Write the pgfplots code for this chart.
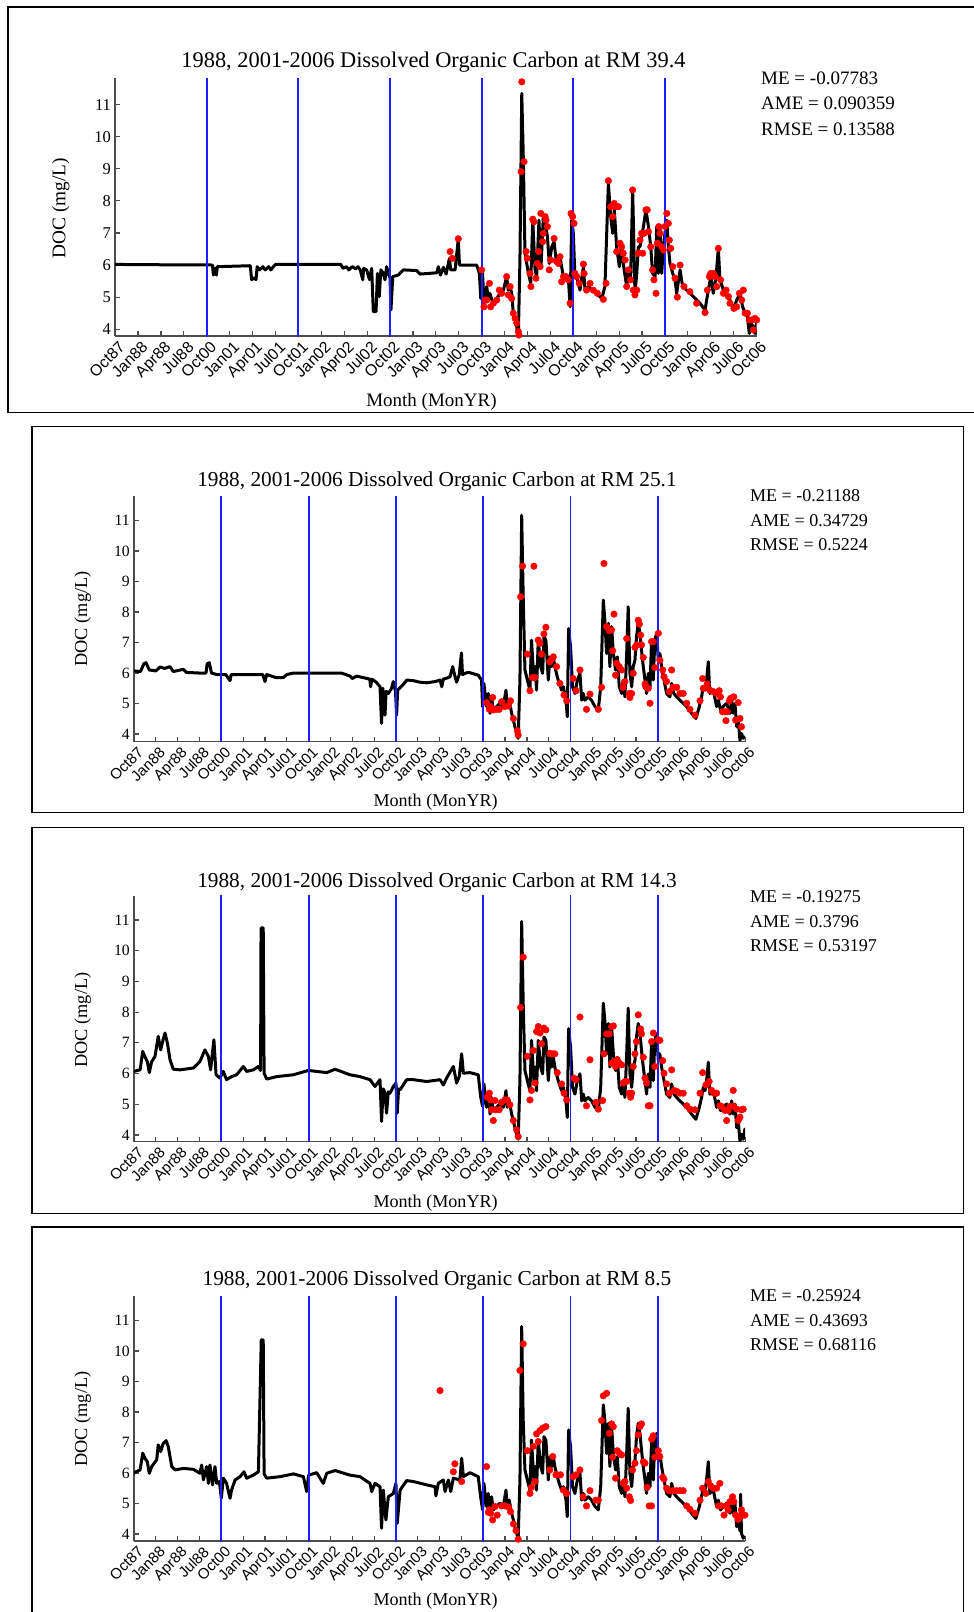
\documentclass[border=0pt]{standalone}
\usepackage{fontspec}
\setmainfont{Liberation Serif}
\newfontfamily\arialf{Liberation Sans}
\usepackage{pgfplots}
\usepackage{pgfplotstable}
\pgfplotsset{compat=1.18}
\definecolor{mblue}{RGB}{30,30,255}
\definecolor{mred}{RGB}{255,0,0}

% ---------------- Panel 1 (RM 39.4) ----------------
\pgfplotstableread{
x y
0 6.02
2 6.01
4.0 6.01
4.25 6.0
4.29 5.69
4.35 5.9
4.42 5.69
4.46 5.95
5.9 5.98
5.96 5.54
6.05 5.6
6.15 5.55
6.2 5.95
6.3 5.85
6.45 5.95
6.55 5.85
6.7 5.95
6.8 5.85
6.91 5.95
7.0 6.02
9.85 6.02
9.95 5.9
10.1 5.95
10.2 5.85
10.35 5.95
10.5 5.88
10.6 5.95
10.7 5.85
10.81 5.54
10.85 5.9
10.98 5.85
11.1 5.55
11.2 5.9
11.27 4.55
11.39 4.55
11.45 5.74
11.53 5.02
11.6 5.85
11.7 5.75
11.78 5.54
11.85 5.95
11.93 5.74
12.0 5.6
12.04 4.6
12.12 5.64
12.36 5.69
12.58 5.85
13.16 5.83
13.31 5.72
14.04 5.76
14.11 5.95
14.2 5.69
14.33 5.93
14.45 5.72
14.59 6.21
14.65 5.85
14.84 5.85
14.98 6.82
15.03 6.0
15.78 6.0
15.90 5.74
15.96 4.96
16.04 5.74
16.10 4.81
16.22 5.33
16.29 4.91
16.36 5.12
16.51 4.76
16.66 4.96
16.80 5.12
16.95 5.22
17.09 5.64
17.16 5.22
17.24 5.33
17.31 5.12
17.38 4.50
17.46 4.29
17.53 4.08
17.60 3.77
17.67 6.16
17.75 11.35
17.82 9.27
17.89 6.37
18.04 5.74
18.14 5.43
18.23 7.40
18.33 5.85
18.40 5.64
18.50 7.40
18.59 5.95
18.69 7.51
18.79 7.20
18.87 6.89
18.95 6.05
19.06 6.57
19.16 6.73
19.25 6.16
19.35 6.05
19.42 6.26
19.49 5.95
19.57 5.64
19.68 5.54
19.78 5.64
19.86 4.70
19.93 7.40
20.00 6.99
20.07 5.64
20.18 5.54
20.29 5.22
20.44 5.95
20.51 5.22
20.66 5.33
20.80 5.22
21.02 5.12
21.24 4.96
21.38 5.33
21.53 8.55
21.63 7.51
21.72 6.99
21.79 7.72
21.89 6.57
22.01 5.95
22.11 6.68
22.18 6.05
22.33 5.33
22.40 5.85
22.50 5.54
22.59 8.34
22.69 5.12
22.77 5.74
22.84 6.57
22.91 6.57
23.06 7.20
23.17 7.72
23.28 7.20
23.38 6.57
23.46 5.74
23.57 5.64
23.64 7.20
23.71 5.74
23.78 7.20
23.86 5.74
23.93 6.57
24.00 6.99
24.08 7.40
24.15 6.57
24.22 6.05
24.34 5.74
24.44 5.54
24.51 5.12
24.66 5.85
24.77 5.33
24.95 5.22
25.24 5.02
25.53 4.81
25.75 4.60
25.89 5.22
26.00 5.64
26.11 5.12
26.23 5.64
26.33 6.52
26.40 5.54
26.55 5.22
26.69 5.02
26.84 4.91
26.99 4.60
27.13 4.91
27.28 5.12
27.39 4.70
27.50 4.50
27.60 4.39
27.68 3.87
27.74 4.19
27.86 4.08
27.93 3.87
28.00 4.19
}\pOneLine

\pgfplotstableread{
x y
14.62 6.42
14.72 6.21
14.98 6.82
16.00 5.85
16.10 4.70
16.15 4.91
16.22 4.91
16.34 5.43
16.39 4.70
16.51 4.81
16.66 4.91
16.77 5.22
16.87 5.12
17.09 5.64
17.16 5.07
17.24 5.33
17.31 4.96
17.38 4.50
17.46 4.34
17.53 4.19
17.60 3.93
17.63 3.82
17.75 11.71
17.72 8.91
17.85 9.22
17.94 6.42
17.99 6.21
18.11 5.74
18.15 5.33
18.23 7.43
18.28 7.35
18.37 5.59
18.43 6.05
18.49 6.42
18.55 5.95
18.58 7.61
18.66 6.73
18.69 6.99
18.77 7.51
18.81 7.40
18.87 7.20
18.95 5.85
19.01 6.16
19.16 6.83
19.27 6.11
19.35 6.05
19.42 6.26
19.49 5.48
19.57 5.64
19.68 5.64
19.78 5.54
19.86 4.81
19.90 7.61
19.97 7.51
20.03 7.30
20.07 5.74
20.15 5.64
20.26 5.43
20.44 6.03
20.47 5.74
20.58 5.22
20.73 5.43
20.87 5.22
21.05 5.12
21.31 4.93
21.43 5.43
21.53 8.63
21.63 7.82
21.72 7.51
21.78 7.92
21.82 7.82
21.89 6.42
21.97 7.82
22.04 6.68
22.11 6.57
22.18 6.37
22.26 6.16
22.33 5.33
22.40 5.85
22.50 5.54
22.59 8.34
22.62 5.22
22.69 5.07
22.77 5.22
22.84 6.37
22.91 6.78
22.98 6.99
23.03 6.37
23.09 6.99
23.17 7.72
23.23 7.72
23.28 7.04
23.38 6.57
23.46 5.85
23.52 5.54
23.61 5.12
23.67 6.68
23.73 7.20
23.78 6.99
23.86 6.57
23.93 6.47
24.00 7.20
24.08 7.61
24.15 7.30
24.19 6.78
24.25 6.52
24.34 5.95
24.44 5.59
24.54 5.00
24.66 6.00
24.83 5.33
25.09 5.17
25.38 4.81
25.75 4.52
25.85 5.22
25.94 5.64
26.00 5.74
26.11 5.74
26.19 5.64
26.26 5.33
26.33 6.52
26.43 5.54
26.55 5.12
26.67 5.22
26.77 5.02
26.84 4.81
27.01 4.65
27.13 4.70
27.25 5.12
27.35 4.91
27.42 5.22
27.50 4.50
27.60 4.50
27.68 4.29
27.79 4.29
27.86 3.98
27.93 4.34
28.00 4.29
}\pOneDots

% ---------------- Panel 2 (RM 25.1) ----------------
\pgfplotstableread{
x y
0 6.07
0.3 6.05
0.45 6.30
0.55 6.34
0.7 6.10
1.0 6.07
1.2 6.20
1.4 6.15
1.65 6.21
1.8 6.05
2.26 6.12
2.4 6.02
3.0 6.0
3.3 6.0
3.35 6.30
3.45 6.34
3.55 6.0
3.8 5.95
4.0 5.95
4.2 5.95
4.4 5.75
4.45 5.95
5.9 5.95
6.0 5.72
6.08 5.95
6.5 5.85
6.84 5.85
7.0 5.95
7.3 6.0
9.5 6.0
9.9 5.9
10.0 5.82
10.2 5.9
10.5 5.85
10.8 5.8
10.84 5.55
10.9 5.8
11.1 5.7
11.27 5.55
11.34 4.35
11.4 5.5
11.5 4.62
11.55 5.4
11.65 5.33
11.8 5.5
11.88 5.72
11.98 5.4
12.03 4.62
12.08 5.44
12.3 5.6
12.5 5.77
12.8 5.75
13.1 5.7
13.41 5.68
13.8 5.72
14.02 5.77
14.1 5.55
14.17 5.8
14.4 5.85
14.48 5.88
14.6 6.21
14.7 5.9
14.78 5.7
14.9 5.95
15.0 6.66
15.05 5.95
15.24 6.01
15.39 6.01
15.77 5.93
15.92 5.77
15.97 4.90
16.03 5.66
16.15 4.90
16.23 5.33
16.31 4.68
16.38 5.22
16.46 4.79
16.61 4.90
16.76 5.01
16.92 4.90
17.04 5.44
17.10 4.90
17.19 5.11
17.30 4.68
17.38 4.46
17.45 4.24
17.53 4.02
17.60 3.86
17.68 5.77
17.76 11.17
17.83 8.50
17.91 6.10
18.02 5.77
18.14 5.44
18.21 7.08
18.32 5.77
18.38 6.21
18.44 5.44
18.52 7.08
18.63 6.21
18.72 5.99
18.78 7.19
18.87 7.08
18.98 5.77
19.05 6.53
19.13 6.21
19.21 6.53
19.28 6.21
19.39 5.88
19.48 5.66
19.59 5.44
19.67 5.55
19.79 5.11
19.85 4.57
19.91 7.46
20.00 6.86
20.09 5.55
20.20 5.33
20.31 5.77
20.43 5.99
20.51 5.11
20.58 5.33
20.66 5.11
20.81 5.22
20.96 5.11
21.12 4.90
21.27 4.79
21.38 5.55
21.50 8.39
21.57 7.73
21.65 6.64
21.73 7.63
21.80 6.21
21.88 7.52
21.96 6.64
22.06 6.10
22.14 6.53
22.23 5.55
22.34 5.33
22.41 5.77
22.49 5.22
22.57 6.64
22.64 8.17
22.72 5.99
22.80 5.55
22.87 6.21
22.95 6.42
23.02 7.19
23.10 7.63
23.18 7.30
23.25 6.75
23.33 6.21
23.41 5.77
23.48 5.33
23.56 5.99
23.64 5.55
23.71 7.08
23.79 5.77
23.86 7.08
23.94 7.30
24.02 6.42
24.09 6.64
24.17 6.21
24.28 5.77
24.40 5.33
24.55 5.22
24.63 5.66
24.73 5.33
24.86 5.22
25.01 5.11
25.16 5.01
25.32 4.90
25.54 4.68
25.74 4.51
25.90 4.90
26.00 5.22
26.08 5.55
26.16 5.44
26.23 5.77
26.31 6.37
26.38 5.33
26.54 5.44
26.69 4.90
26.77 5.11
26.87 4.79
26.99 4.90
27.15 5.01
27.30 4.68
27.38 5.11
27.45 4.68
27.53 5.01
27.61 4.24
27.68 4.46
27.76 3.80
27.83 4.02
27.91 3.86
27.99 3.91
}\pTwoLine

\pgfplotstableread{
x y
16.15 5.03
16.28 4.81
16.34 4.90
16.43 5.20
16.46 4.79
16.61 4.81
16.73 4.81
16.84 5.06
16.99 4.90
17.15 4.92
17.25 5.09
17.38 4.51
17.56 4.11
17.60 3.97
17.71 8.50
17.80 9.50
18.32 9.50
18.02 6.62
18.14 5.42
18.25 5.85
18.37 5.85
18.52 7.08
18.60 6.97
18.67 6.62
18.78 7.28
18.87 7.50
19.05 6.37
19.13 6.45
19.21 6.53
19.36 6.21
19.51 5.66
19.70 5.28
19.82 5.09
20.12 5.82
20.25 5.42
20.43 6.10
20.73 4.81
20.89 5.31
21.27 4.81
21.42 5.53
21.53 9.59
21.65 7.52
21.77 7.39
21.88 7.41
21.93 6.73
21.99 7.93
22.06 5.93
22.11 6.32
22.23 6.21
22.34 6.10
22.41 5.53
22.49 5.72
22.57 7.13
22.69 5.33
22.72 5.20
22.80 5.33
22.87 5.99
22.95 6.84
23.02 6.92
23.10 7.73
23.15 7.60
23.21 7.24
23.25 6.92
23.33 6.51
23.41 5.64
23.45 5.55
23.56 5.50
23.64 5.01
23.71 7.03
23.79 7.03
23.86 6.18
24.02 7.30
24.09 6.42
24.22 6.10
24.28 5.88
24.40 5.72
24.52 5.39
24.63 6.10
24.70 5.53
24.86 5.53
25.01 5.33
25.16 5.33
25.32 5.01
25.47 4.81
25.70 4.62
25.93 5.09
26.05 5.82
26.08 5.50
26.20 5.53
26.26 5.64
26.38 5.44
26.54 5.39
26.69 5.33
26.81 5.42
26.87 5.22
26.96 4.73
27.07 4.73
27.12 4.44
27.18 4.73
27.27 5.09
27.33 5.17
27.42 5.20
27.48 5.22
27.56 4.46
27.68 5.03
27.76 4.51
27.83 4.24
}\pTwoDots

% ---------------- Panel 3 (RM 14.3) ----------------
\pgfplotstableread{
x y
0 6.07
0.28 6.12
0.40 6.72
0.50 6.55
0.61 6.39
0.70 6.03
0.81 6.39
0.96 6.55
1.11 7.21
1.22 6.77
1.34 7.12
1.42 7.32
1.53 6.99
1.65 6.45
1.80 6.14
2.11 6.12
2.72 6.18
3.02 6.39
3.25 6.77
3.41 6.55
3.51 6.12
3.66 7.10
3.76 5.96
3.94 5.85
4.09 6.07
4.24 5.80
4.47 5.90
4.70 5.96
5.01 6.23
5.16 6.07
5.47 6.12
5.70 6.23
5.80 6.10
5.82 10.74
5.92 10.74
5.96 6.01
6.08 5.82
6.54 5.90
7.30 5.96
7.99 6.10
8.83 6.03
9.21 6.14
9.89 5.96
10.35 5.90
10.81 5.80
11.04 5.58
11.27 5.80
11.34 4.44
11.42 5.5
11.50 5.36
11.57 4.71
11.65 5.4
11.73 5.36
11.88 5.58
12.0 5.69
12.06 4.71
12.12 5.5
12.19 5.47
12.49 5.80
12.80 5.80
13.41 5.74
14.02 5.80
14.17 5.63
14.32 5.85
14.63 6.23
14.78 5.69
14.9 5.9
15.01 6.64
15.09 6.01
15.39 6.03
15.77 5.96
15.88 5.25
15.97 4.93
16.03 5.66
16.15 4.90
16.23 5.33
16.31 4.68
16.38 5.22
16.46 4.79
16.61 4.90
16.76 5.01
16.92 4.90
17.04 5.44
17.10 4.90
17.19 5.11
17.30 4.68
17.38 4.46
17.45 4.24
17.53 4.02
17.60 3.86
17.68 5.77
17.76 10.95
17.83 8.30
17.91 6.10
18.02 5.77
18.14 5.44
18.21 7.08
18.32 5.77
18.38 6.21
18.44 5.44
18.52 7.08
18.63 6.21
18.72 5.99
18.78 7.19
18.87 7.08
18.98 5.77
19.05 6.53
19.13 6.21
19.21 6.53
19.28 6.21
19.39 5.88
19.48 5.66
19.59 5.44
19.67 5.55
19.79 5.11
19.85 4.57
19.91 7.46
20.00 6.86
20.09 5.55
20.20 5.33
20.31 5.77
20.43 5.99
20.51 5.11
20.58 5.33
20.66 5.11
20.81 5.22
20.96 5.11
21.12 4.90
21.27 4.79
21.38 5.55
21.50 8.29
21.57 7.73
21.65 6.64
21.73 7.63
21.80 6.21
21.88 7.52
21.96 6.64
22.06 6.10
22.14 6.53
22.23 5.55
22.34 5.33
22.41 5.77
22.49 5.22
22.57 6.64
22.64 8.13
22.72 5.99
22.80 5.55
22.87 6.21
22.95 6.42
23.02 7.19
23.10 7.63
23.18 7.30
23.25 6.75
23.33 6.21
23.41 5.77
23.48 5.33
23.56 5.99
23.64 5.55
23.71 7.08
23.79 5.77
23.86 7.08
23.94 7.30
24.02 6.42
24.09 6.64
24.17 6.21
24.28 5.77
24.40 5.33
24.55 5.22
24.63 5.66
24.73 5.33
24.86 5.22
25.01 5.11
25.16 5.01
25.32 4.90
25.54 4.68
25.74 4.51
25.90 4.90
26.00 5.22
26.08 5.55
26.16 5.44
26.23 5.77
26.31 6.37
26.38 5.33
26.54 5.44
26.69 4.90
26.77 5.11
26.87 4.79
26.99 4.90
27.15 5.01
27.30 4.68
27.38 5.11
27.45 4.68
27.53 5.01
27.61 4.24
27.68 4.46
27.76 3.80
27.83 4.02
27.91 3.86
27.99 4.20
}\pThreeLine

\pgfplotstableread{
x y
16.18 5.23
16.28 5.36
16.34 5.14
16.38 4.82
16.46 4.47
16.54 5.12
16.58 4.82
16.73 4.82
16.84 5.06
16.99 5.14
17.10 5.14
17.22 4.98
17.38 4.47
17.53 4.17
17.60 3.95
17.71 8.15
17.83 9.79
18.02 6.56
18.14 5.14
18.21 5.45
18.29 6.75
18.37 5.69
18.44 7.37
18.52 7.53
18.60 7.32
18.67 6.97
18.78 7.48
18.87 7.42
19.05 6.66
19.18 6.64
19.28 6.64
19.39 6.03
19.59 5.66
19.70 5.36
19.82 5.14
20.15 5.85
20.25 5.80
20.43 7.84
20.89 6.45
20.73 4.95
21.16 5.06
21.27 4.84
21.47 5.12
21.53 6.64
21.65 7.29
21.77 7.29
21.88 7.53
21.96 7.55
21.88 6.34
21.99 6.39
22.06 6.23
22.14 6.45
22.23 6.34
22.34 6.28
22.41 5.69
22.49 5.74
22.57 5.74
22.69 5.36
22.75 5.23
22.80 5.36
22.87 6.23
22.95 6.64
23.02 7.04
23.10 7.91
23.21 7.45
23.25 7.29
23.33 6.53
23.41 5.85
23.48 5.69
23.56 4.95
23.64 4.95
23.71 7.04
23.79 7.32
23.86 6.23
24.02 7.10
24.09 7.08
24.22 6.42
24.28 6.01
24.40 5.66
24.52 5.36
24.63 6.12
24.74 5.45
24.86 5.42
25.01 5.36
25.16 5.36
25.32 4.95
25.47 4.84
25.70 4.82
25.93 5.36
26.05 6.03
26.20 5.63
26.26 5.66
26.35 5.74
26.46 5.45
26.57 5.36
26.69 5.36
26.84 4.95
26.92 4.93
27.07 4.80
27.15 4.47
27.22 4.80
27.30 4.93
27.45 5.45
27.48 4.93
27.61 4.84
27.68 4.47
27.76 4.58
27.83 4.82
27.91 4.84
}\pThreeDots

% ---------------- Panel 4 (RM 8.5) ----------------
\pgfplotstableread{
x y
0 6.01
0.28 6.10
0.40 6.65
0.50 6.48
0.61 6.37
0.70 5.99
0.81 6.21
1.04 6.43
1.11 6.92
1.22 6.70
1.34 6.97
1.47 7.06
1.57 6.86
1.73 6.21
1.88 6.10
2.26 6.15
2.72 6.12
3.02 5.99
3.10 6.26
3.18 5.77
3.33 6.21
3.41 5.66
3.48 6.26
3.60 5.61
3.71 6.21
3.79 5.66
3.91 5.72
4.0 5.17
4.09 5.83
4.24 5.66
4.40 5.17
4.47 5.44
4.63 5.77
4.86 5.88
5.04 6.04
5.16 5.83
5.47 5.93
5.70 6.04
5.83 10.36
5.92 10.36
5.96 5.97
6.08 5.83
6.69 5.88
7.30 5.97
7.76 5.88
7.91 5.39
8.0 5.93
8.37 6.01
8.67 5.66
8.83 5.99
9.21 6.08
9.89 5.93
10.35 5.88
10.81 5.66
10.89 5.39
11.04 5.66
11.27 5.55
11.34 4.19
11.42 5.44
11.54 4.46
11.65 5.22
11.88 5.33
12.0 5.66
12.06 4.35
12.19 5.44
12.49 5.75
12.80 5.72
13.41 5.61
13.79 5.55
13.83 5.25
13.94 5.66
14.17 5.77
14.25 5.39
14.40 5.77
14.51 5.39
14.63 5.83
14.93 5.77
15.01 6.48
15.09 5.88
15.39 6.01
15.77 5.88
15.88 5.22
15.97 4.79
16.03 5.66
16.15 4.90
16.23 5.33
16.31 4.68
16.38 5.22
16.46 4.79
16.61 4.90
16.76 5.01
16.92 4.90
17.04 5.44
17.10 4.90
17.19 5.11
17.30 4.68
17.38 4.46
17.45 4.24
17.53 4.02
17.60 3.86
17.68 5.77
17.76 10.80
17.83 7.74
17.91 6.10
18.02 5.77
18.14 5.44
18.21 7.08
18.32 5.77
18.38 6.21
18.44 5.44
18.52 7.08
18.63 6.21
18.72 5.99
18.78 7.19
18.87 7.08
18.98 5.77
19.05 6.53
19.13 6.21
19.21 6.53
19.28 6.21
19.39 5.88
19.48 5.66
19.59 5.44
19.67 5.55
19.79 5.11
19.85 4.57
19.91 7.41
20.00 6.86
20.09 5.55
20.20 5.33
20.31 5.77
20.43 5.99
20.51 5.11
20.58 5.33
20.66 5.11
20.81 5.22
20.96 5.11
21.12 4.90
21.27 4.79
21.38 5.55
21.50 8.23
21.57 7.73
21.65 6.64
21.73 7.63
21.80 6.21
21.88 7.52
21.96 6.64
22.06 6.10
22.14 6.53
22.23 5.55
22.34 5.33
22.41 5.77
22.49 5.22
22.57 6.64
22.64 8.12
22.72 5.99
22.80 5.55
22.87 6.21
22.95 6.42
23.02 7.19
23.10 7.63
23.18 7.30
23.25 6.75
23.33 6.21
23.41 5.77
23.48 5.33
23.56 5.99
23.64 5.55
23.71 7.08
23.79 5.77
23.86 7.08
23.94 7.30
24.02 6.42
24.09 6.64
24.17 6.21
24.28 5.77
24.40 5.33
24.55 5.22
24.63 5.66
24.73 5.33
24.86 5.22
25.01 5.11
25.16 5.01
25.32 4.90
25.54 4.68
25.74 4.51
25.90 4.90
26.00 5.22
26.08 5.55
26.16 5.44
26.23 5.77
26.31 6.37
26.38 5.33
26.54 5.44
26.69 4.90
26.77 5.11
26.87 4.79
26.99 4.90
27.15 5.01
27.30 4.68
27.38 5.11
27.45 4.68
27.53 5.01
27.61 4.24
27.68 4.46
27.76 4.10
27.79 5.30
27.83 4.02
27.91 3.86
27.99 3.91
}\pFourLine

\pgfplotstableread{
x y
14.02 8.70
14.63 6.04
14.70 6.30
15.01 5.72
16.15 6.21
16.23 4.71
16.28 4.79
16.34 4.68
16.43 4.46
16.54 4.90
16.64 4.62
16.84 4.92
16.99 4.92
17.15 4.88
17.25 4.73
17.38 4.33
17.50 4.11
17.60 3.83
17.68 9.36
17.83 10.23
18.02 6.73
18.14 5.33
18.21 5.53
18.29 6.87
18.37 5.72
18.44 7.28
18.52 7.03
18.60 7.39
18.72 7.47
18.87 7.52
19.05 6.10
19.18 6.54
19.33 5.94
19.39 5.94
19.54 5.94
19.67 5.44
19.82 5.33
20.12 5.88
20.25 5.94
20.43 6.10
20.58 5.22
20.73 4.92
20.89 5.42
21.16 5.11
21.27 5.11
21.42 7.72
21.50 8.53
21.65 8.61
21.77 7.30
21.88 7.61
21.96 7.52
21.93 6.52
22.06 5.83
22.14 6.73
22.23 6.65
22.34 6.59
22.41 5.66
22.49 5.72
22.57 5.50
22.69 5.22
22.75 5.10
22.84 6.10
22.95 6.32
23.02 6.73
23.10 7.25
23.18 7.52
23.25 7.61
23.33 6.37
23.41 6.32
23.51 5.53
23.60 4.92
23.71 4.92
23.71 7.11
23.79 7.22
23.86 6.52
24.02 6.73
24.09 6.54
24.22 5.86
24.28 5.80
24.40 5.50
24.52 5.42
24.70 5.42
24.86 5.42
25.01 5.42
25.16 5.42
25.32 4.92
25.47 4.81
25.70 4.68
25.93 5.11
26.05 5.50
26.20 5.33
26.31 5.72
26.41 5.58
26.54 5.50
26.69 5.50
26.84 5.66
26.77 4.92
26.92 4.92
27.03 4.62
27.15 4.92
27.22 4.79
27.30 5.06
27.42 5.22
27.48 5.06
27.56 4.62
27.68 4.48
27.76 4.59
27.83 4.79
27.91 4.62
27.99 4.62
}\pFourDots

\pgfplotsset{
  docstyle/.style={
    scale only axis,
    xmin=0, xmax=28,
    axis x line=bottom, axis y line=left,
    axis line style={black!70, line width=1.3pt, -},
    tick align=inside,
    major tick length=5pt,
    every tick/.style={black!70, line width=1.2pt},
    xtick={0,...,28},
    xticklabels={Oct87,Jan88,Apr88,Jul88,Oct00,Jan01,Apr01,Jul01,Oct01,Jan02,Apr02,Jul02,Oct02,Jan03,Apr03,Jul03,Oct03,Jan04,Apr04,Jul04,Oct04,Jan05,Apr05,Jul05,Oct05,Jan06,Apr06,Jul06,Oct06},
    ytick={4,5,6,7,8,9,10,11},
    /pgf/number format/assume math mode=true,
    xticklabel style={rotate=45, anchor=north east, inner sep=1pt, yshift=-4pt},
    yticklabel style={anchor=east, inner sep=1pt, xshift=-3pt},
    clip=true,
  },
  blackline/.style={black, line width=3pt, line join=round, line cap=round, no markers},
  reddots/.style={only marks, mark=*, mark size=3.3pt, mred, mark options={fill=mred, draw=none}},
  blueline/.style={mblue, line width=1.8pt, no markers},
}

\begin{document}
\begin{tikzpicture}
\useasboundingbox (0pt,0pt) rectangle (974pt,-1612pt);

% panel frames
\draw[line width=1.5pt] (974pt,-7pt) -- (8pt,-7pt) -- (8pt,-412.7pt) -- (974pt,-412.7pt);
\draw[line width=1.5pt] (32pt,-426.7pt) rectangle (963.3pt,-812.7pt);
\draw[line width=1.5pt] (32pt,-827.3pt) rectangle (963.3pt,-1213.3pt);
\draw[line width=1.5pt] (32pt,-1612pt) -- (32pt,-1227pt) -- (963.3pt,-1227pt) -- (963.3pt,-1612pt);

% ===== Panel 1 =====
\begin{axis}[docstyle, at={(115.1pt,-336pt)}, anchor=south west,
  width=641.5pt, height=257.7pt, ymin=3.79, ymax=11.82,
  xticklabel style={font=\arialf\fontsize{15.8}{16}\selectfont},
  yticklabel style={font=\fontsize{16.5}{17}\selectfont}]
\addplot[blackline] table {\pOneLine};
\addplot[reddots] table {\pOneDots};
\addplot[blueline] coordinates {(4,3.5) (4,12)};
\addplot[blueline] coordinates {(8,3.5) (8,12)};
\addplot[blueline] coordinates {(12,3.5) (12,12)};
\addplot[blueline] coordinates {(16,3.5) (16,12)};
\addplot[blueline] coordinates {(20,3.5) (20,12)};
\addplot[blueline] coordinates {(24,3.5) (24,12)};
\end{axis}
\node[anchor=base, font=\fontsize{22.4}{24}\selectfont] at (433.5pt,-67.5pt) {1988, 2001-2006 Dissolved Organic Carbon at RM 39.4};
\node[anchor=base, font=\fontsize{19}{21}\selectfont] at (431.5pt,-406pt) {Month (MonYR)};
\node[rotate=90, font=\fontsize{19.3}{21}\selectfont] at (60.7pt,-208pt) {DOC (mg/L)};
\node[anchor=base west, font=\fontsize{19}{21}\selectfont, inner sep=0pt] at (761pt,-84pt) {ME = -0.07783};
\node[anchor=base west, font=\fontsize{19}{21}\selectfont, inner sep=0pt] at (761pt,-109.5pt) {AME = 0.090359};
\node[anchor=base west, font=\fontsize{19}{21}\selectfont, inner sep=0pt] at (761pt,-135pt) {RMSE = 0.13588};

% ===== Panel 2 =====
\begin{axis}[docstyle, at={(134pt,-741.7pt)}, anchor=south west,
  width=611.2pt, height=245.7pt, ymin=3.75, ymax=11.80,
  xticklabel style={font=\arialf\fontsize{15}{15}\selectfont},
  yticklabel style={font=\fontsize{15.7}{16}\selectfont}]
\addplot[blackline] table {\pTwoLine};
\addplot[reddots] table {\pTwoDots};
\addplot[blueline] coordinates {(4,3.5) (4,12)};
\addplot[blueline] coordinates {(8,3.5) (8,12)};
\addplot[blueline] coordinates {(12,3.5) (12,12)};
\addplot[blueline] coordinates {(16,3.5) (16,12)};
\addplot[blueline] coordinates {(20,3.5) (20,12)};
\addplot[blueline] coordinates {(24,3.5) (24,12)};
\end{axis}
\node[anchor=base, font=\fontsize{21.3}{23}\selectfont] at (437pt,-486pt) {1988, 2001-2006 Dissolved Organic Carbon at RM 25.1};
\node[anchor=base, font=\fontsize{18.1}{20}\selectfont] at (435.6pt,-806.7pt) {Month (MonYR)};
\node[rotate=90, font=\fontsize{18.3}{20}\selectfont] at (82.7pt,-619pt) {DOC (mg/L)};
\node[anchor=base west, font=\fontsize{18}{20}\selectfont, inner sep=0pt] at (750pt,-501.5pt) {ME = -0.21188};
\node[anchor=base west, font=\fontsize{18}{20}\selectfont, inner sep=0pt] at (750pt,-526pt) {AME = 0.34729};
\node[anchor=base west, font=\fontsize{18}{20}\selectfont, inner sep=0pt] at (750pt,-550pt) {RMSE = 0.5224};

% ===== Panel 3 =====
\begin{axis}[docstyle, at={(134pt,-1141.7pt)}, anchor=south west,
  width=611.2pt, height=246pt, ymin=3.78, ymax=11.79,
  xticklabel style={font=\arialf\fontsize{15}{15}\selectfont},
  yticklabel style={font=\fontsize{15.7}{16}\selectfont}]
\addplot[blackline] table {\pThreeLine};
\addplot[reddots] table {\pThreeDots};
\addplot[blueline] coordinates {(4,3.5) (4,12)};
\addplot[blueline] coordinates {(8,3.5) (8,12)};
\addplot[blueline] coordinates {(12,3.5) (12,12)};
\addplot[blueline] coordinates {(16,3.5) (16,12)};
\addplot[blueline] coordinates {(20,3.5) (20,12)};
\addplot[blueline] coordinates {(24,3.5) (24,12)};
\end{axis}
\node[anchor=base, font=\fontsize{21.3}{23}\selectfont] at (437pt,-887pt) {1988, 2001-2006 Dissolved Organic Carbon at RM 14.3};
\node[anchor=base, font=\fontsize{18.1}{20}\selectfont] at (435.6pt,-1207.7pt) {Month (MonYR)};
\node[rotate=90, font=\fontsize{18.3}{20}\selectfont] at (82.7pt,-1020pt) {DOC (mg/L)};
\node[anchor=base west, font=\fontsize{18}{20}\selectfont, inner sep=0pt] at (750pt,-902.5pt) {ME = -0.19275};
\node[anchor=base west, font=\fontsize{18}{20}\selectfont, inner sep=0pt] at (750pt,-927pt) {AME = 0.3796};
\node[anchor=base west, font=\fontsize{18}{20}\selectfont, inner sep=0pt] at (750pt,-951pt) {RMSE = 0.53197};

% ===== Panel 4 =====
\begin{axis}[docstyle, at={(134pt,-1541pt)}, anchor=south west,
  width=611.2pt, height=245pt, ymin=3.77, ymax=11.80,
  xticklabel style={font=\arialf\fontsize{15}{15}\selectfont},
  yticklabel style={font=\fontsize{15.7}{16}\selectfont}]
\addplot[blackline] table {\pFourLine};
\addplot[reddots] table {\pFourDots};
\addplot[blueline] coordinates {(4,3.5) (4,12)};
\addplot[blueline] coordinates {(8,3.5) (8,12)};
\addplot[blueline] coordinates {(12,3.5) (12,12)};
\addplot[blueline] coordinates {(16,3.5) (16,12)};
\addplot[blueline] coordinates {(20,3.5) (20,12)};
\addplot[blueline] coordinates {(24,3.5) (24,12)};
\end{axis}
\node[anchor=base, font=\fontsize{21.3}{23}\selectfont] at (437pt,-1285.5pt) {1988, 2001-2006 Dissolved Organic Carbon at RM 8.5};
\node[anchor=base, font=\fontsize{18.1}{20}\selectfont] at (435.6pt,-1605.5pt) {Month (MonYR)};
\node[rotate=90, font=\fontsize{18.3}{20}\selectfont] at (82.7pt,-1419pt) {DOC (mg/L)};
\node[anchor=base west, font=\fontsize{18}{20}\selectfont, inner sep=0pt] at (750pt,-1301.5pt) {ME = -0.25924};
\node[anchor=base west, font=\fontsize{18}{20}\selectfont, inner sep=0pt] at (750pt,-1326pt) {AME = 0.43693};
\node[anchor=base west, font=\fontsize{18}{20}\selectfont, inner sep=0pt] at (750pt,-1350pt) {RMSE = 0.68116};
\end{tikzpicture}
\end{document}
